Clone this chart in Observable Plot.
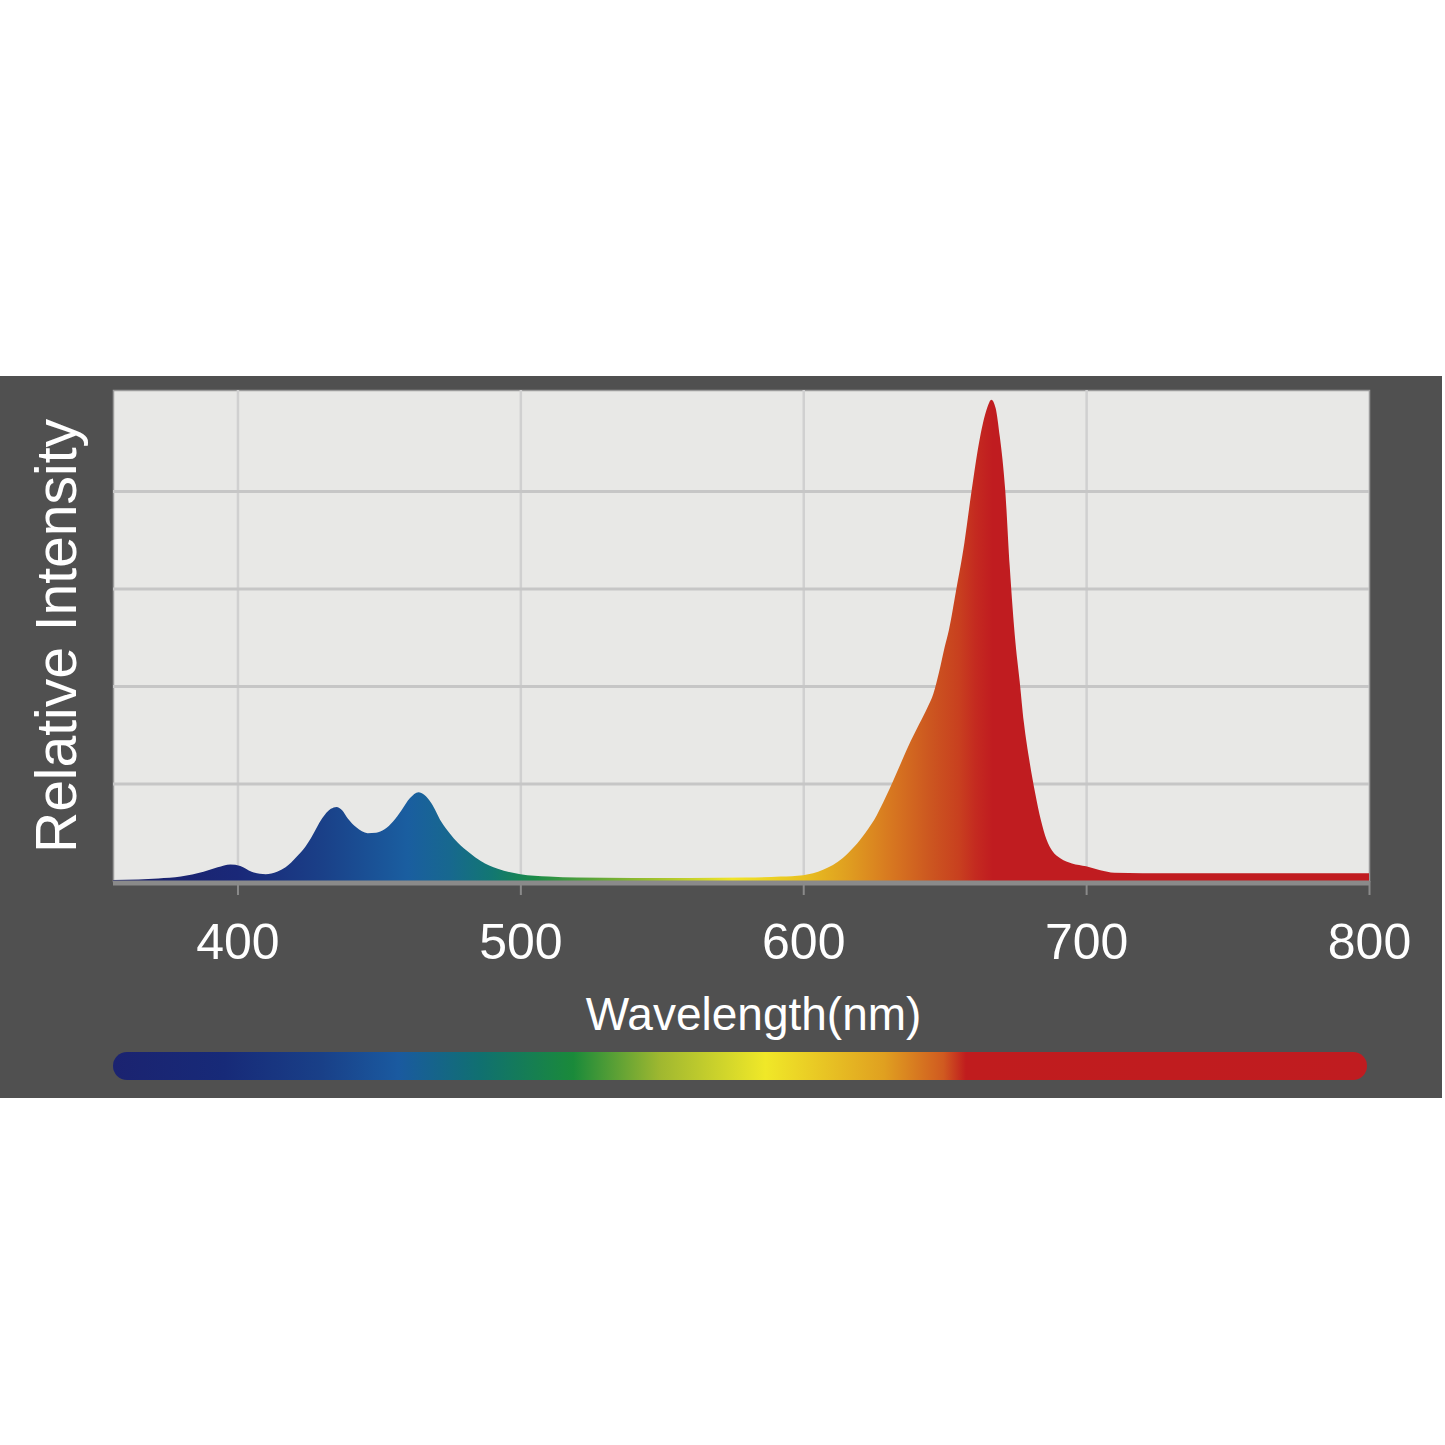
<!DOCTYPE html>
<html>
<head>
<meta charset="utf-8">
<script src="https://cdn.jsdelivr.net/npm/d3@7"></script>
<script src="https://cdn.jsdelivr.net/npm/@observablehq/plot@0.6"></script>
<style>
  html, body { margin: 0; padding: 0; background: #ffffff; }
  #panel { position: absolute; left: 0; top: 376px; width: 1442px; height: 722px; background: #505050; }
  #panel svg { position: absolute; left: 0; top: 0; }
  #bar { position: absolute; height: 28px; border-radius: 14px; }
</style>
</head>
<body>
<div id="panel"></div>
<script>
// Spectrum samples: wavelength (nm) and relative intensity
const wavelengths = [356, 365, 372, 380, 388, 393, 397.5, 401, 405, 410, 414, 417, 421, 424, 426, 430, 433, 435, 437, 439, 442, 446, 449, 452, 455, 458, 461, 464, 466, 468.5, 472, 475, 478, 482, 486, 492, 500, 510, 520, 540, 560, 580, 592, 600, 607, 614, 618, 622, 626, 629, 632, 635, 638, 641, 644, 646, 648, 650, 651.5, 654, 657, 659.5, 662.5, 665, 666.5, 668, 669.5, 671.4, 673, 675, 676.5, 678, 680, 682, 684, 686, 688, 691, 695, 700, 705, 710, 720, 750, 800];
const intensity = [0.002, 0.003, 0.005, 0.009, 0.019, 0.028, 0.034, 0.031, 0.019, 0.014, 0.019, 0.028, 0.050, 0.070, 0.088, 0.129, 0.148, 0.152, 0.145, 0.128, 0.110, 0.098, 0.099, 0.106, 0.122, 0.145, 0.170, 0.182, 0.177, 0.160, 0.122, 0.098, 0.078, 0.058, 0.041, 0.025, 0.014, 0.009, 0.007, 0.006, 0.006, 0.007, 0.009, 0.012, 0.023, 0.047, 0.070, 0.099, 0.135, 0.170, 0.208, 0.248, 0.287, 0.322, 0.357, 0.384, 0.428, 0.480, 0.515, 0.595, 0.695, 0.800, 0.910, 0.970, 0.987, 0.970, 0.911, 0.802, 0.645, 0.490, 0.410, 0.325, 0.245, 0.180, 0.125, 0.085, 0.062, 0.046, 0.036, 0.030, 0.022, 0.017, 0.016, 0.016, 0.016];

const xTicks = [400, 500, 600, 700, 800];
const xGrid = [400, 500, 600, 700];
const yGrid = [0.2, 0.4, 0.6, 0.8];
const xDomain = [356, 800];
const yDomain = [0, 1.007];

// Fill colours along wavelength for the spectrum area
const areaStopNm = [356, 400, 430, 460, 475, 490, 505, 540, 575, 600, 615, 630, 645, 655, 661, 667, 800];
const areaStopColor = ["#1b2068", "#1a2878", "#1a4088", "#1a5ea0", "#17688f", "#127772", "#1a8a48", "#8ab830", "#f0e428", "#e8c020", "#e0a020", "#d87a20", "#cc5620", "#c8401f", "#c42a20", "#c01c20", "#c01c20"];
// Colours of the spectrum bar legend
const barStopNm = [356, 395, 430, 457, 486, 519, 550, 587, 629, 650, 658, 800];
const barStopColor = ["#1b2370", "#172a78", "#194088", "#1a5aa0", "#107070", "#1a8a3a", "#a0b830", "#f0e828", "#e0a020", "#d05a20", "#c01c1e", "#c01c20"];

const xLabel = "Wavelength(nm)";
const yLabel = "Relative Intensity";

const data = wavelengths.map((w, i) => ({w, v: intensity[i]}));

const font = "'Liberation Sans', Arial, Helvetica, sans-serif";

const plot = Plot.plot({
  width: 1442,
  height: 722,
  marginLeft: 113,
  marginRight: 73,
  marginTop: 14,
  marginBottom: 217,
  style: {background: "#505050", fontFamily: font, color: "white", overflow: "visible"},
  x: {domain: xDomain},
  y: {domain: yDomain, axis: null},
  marks: [
    Plot.frame({fill: "#e8e8e6", stroke: "#9a9a9a", strokeWidth: 1.5}),
    Plot.gridX(xGrid, {stroke: "#d0d0d0", strokeOpacity: 1, strokeWidth: 2.5}),
    Plot.gridY(yGrid, {stroke: "#c6c6c6", strokeOpacity: 1, strokeWidth: 3}),
    Plot.areaY(data, {x: "w", y: "v", curve: "monotone-x", fill: "url(#specArea)"}),
    Plot.ruleY([0], {stroke: "#8a8a8a", strokeWidth: 5, dy: 1.5}),
    Plot.axisX({ticks: xTicks, tickSize: 14, tickPadding: 28, stroke: "#8a8a8a", strokeWidth: 2, fill: "white", fontSize: 50, label: null, tickFormat: d => String(d)}),
    Plot.text([yLabel], {frameAnchor: "left", rotate: -90, dx: -56, fontSize: 57, fill: "white", text: d => d, lineAnchor: "middle", textAnchor: "middle"}),
    Plot.text([xLabel], {frameAnchor: "bottom", dy: 116, dx: 12, fontSize: 46, fill: "white", text: d => d, lineAnchor: "top", textAnchor: "middle"})
  ]
});

const xs = plot.scale("x");
const px0 = xs.apply(xDomain[0]);
const px1 = xs.apply(xDomain[1]);
const off = w => ((xs.apply(w) - px0) / (px1 - px0));

// gradient for the area, positioned through the x scale
const svg = d3.select(plot);
const defs = svg.insert("defs", ":first-child");
const grad = defs.append("linearGradient")
  .attr("id", "specArea")
  .attr("gradientUnits", "userSpaceOnUse")
  .attr("x1", px0).attr("x2", px1).attr("y1", 0).attr("y2", 0);
areaStopNm.forEach((w, i) => {
  grad.append("stop").attr("offset", off(w)).attr("stop-color", areaStopColor[i]);
});

const panel = document.getElementById("panel");
panel.appendChild(plot);

// Spectrum colour bar (legend) under the axis label
const bar = document.createElement("div");
bar.id = "bar";
const barLeft = px0;
const barRight = px1 - 2;
bar.style.left = barLeft + "px";
bar.style.width = (barRight - barLeft) + "px";
bar.style.top = "676px";
const stops = barStopNm.map((w, i) => `${barStopColor[i]} ${(off(w) * 100).toFixed(2)}%`).join(", ");
bar.style.background = `linear-gradient(to right, ${stops})`;
panel.appendChild(bar);
</script>
</body>
</html>
